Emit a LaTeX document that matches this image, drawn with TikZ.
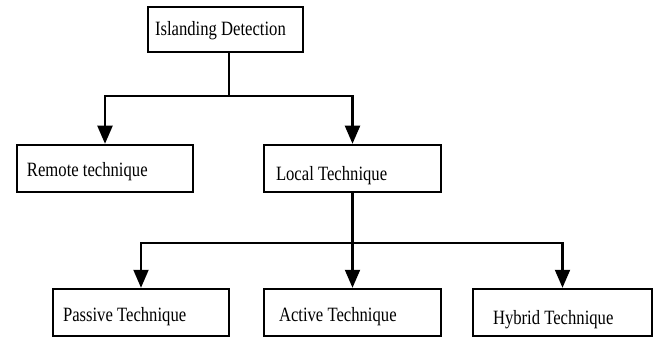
\documentclass[tikz,border=0pt]{standalone}
\usepackage{fontspec}
\setmainfont{Liberation Serif}[FakeStretch=0.82]
\usetikzlibrary{arrows.meta, positioning}

\tikzset{
	box/.style={draw, fill=white, line width=2.5pt, minimum height=47pt, align=flush left,
		font=\fontsize{20.3}{24}\selectfont, text height=18pt, text depth=1pt},
	link/.style={draw, line width=2.1pt},
	arrow/.style={link, -{Triangle[width=15pt,length=18pt]}}
}

\begin{document}
\begin{tikzpicture}[x=1pt, y=1pt]
		\useasboundingbox (0,0) rectangle (654,338);
		% top level
		\node[box, minimum width=155pt, minimum height=45pt, text width=141pt, inner xsep=7pt,
			text height=14pt] (detect) at (225.5,308.5) {Islanding Detection};
		% second level
		\node[box, minimum width=176pt, text width=156pt, inner xsep=10pt] (remote) at (105,169.5) {Remote technique};
		\node[box, minimum width=177pt, text width=153pt, inner xsep=12pt,
			text height=24pt, text depth=0pt] (local) at (352.5,169.5) {Local Technique};
		% third level
		\node[box, minimum width=176pt, text width=156pt, inner xsep=10pt] (passive) at (141,25.5) {Passive Technique};
		\node[box, minimum width=177pt, text width=147pt, inner xsep=15pt] (active) at (352.5,25.5) {Active Technique};
		\node[box, minimum width=179pt, text width=139pt, inner xsep=20pt,
			text height=24pt, text depth=0pt] (hybrid) at (562.5,25.5) {Hybrid Technique};
		% bus lines
		\coordinate (upper bus) at (0,242);
		\coordinate (lower bus) at (0,95);
		\draw[link] ([xshift=3.5pt]detect.south) -- ([xshift=3.5pt]detect.south |- upper bus);
		\draw[arrow] ([xshift=3.5pt]detect.south |- upper bus) -| (remote.north);
		\draw[arrow] ([xshift=3.5pt]detect.south |- upper bus) -| (local.north);
		\draw[link] (local.south) -- (local.south |- lower bus);
		\draw[arrow] (local.south |- lower bus) -| (passive.north);
		\draw[arrow] (local.south |- lower bus) -- (active.north);
		\draw[arrow] (local.south |- lower bus) -| (hybrid.north);
	\end{tikzpicture}
\end{document}
